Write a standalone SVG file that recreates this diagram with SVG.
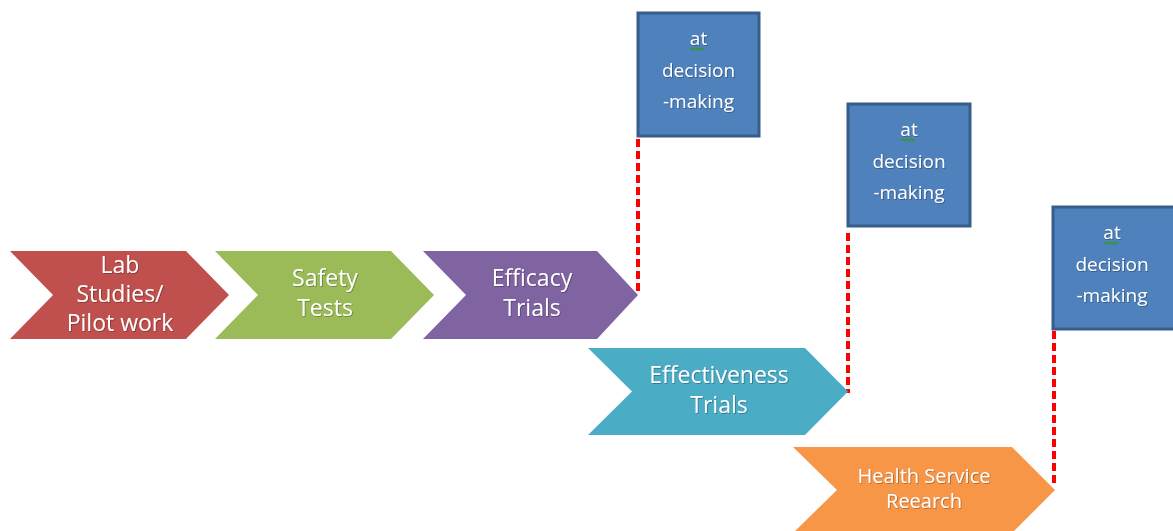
<svg xmlns="http://www.w3.org/2000/svg" width="1173" height="531" viewBox="0 0 1173 531">
<style>
.lbl{font-family:"Open Sans","Noto Sans","Liberation Sans",sans-serif;fill:#ffffff;text-anchor:middle;filter:url(#sh)}
.big{font-size:23px}
.mid{font-size:20px}
.box{fill:#4f81bd;stroke:#385d8a;stroke-width:3}
.bt{font-size:19px}
.dash{stroke:#ff0000;stroke-width:4;stroke-dasharray:8 4;fill:none}
.sq{fill:none;stroke:#2f9a2f;stroke-width:1.4}
</style>
<defs>
<filter id="sh" x="-10%" y="-20%" width="120%" height="140%">
<feDropShadow dx="0.8" dy="0.8" stdDeviation="0.6" flood-color="#000000" flood-opacity="0.35"/>
</filter>
</defs>
<rect width="1173" height="531" fill="#ffffff"/>
<g id="connectors">
<line class="dash" x1="638" y1="139" x2="638" y2="295"/>
<line class="dash" x1="848" y1="233" x2="848" y2="393"/>
<line class="dash" x1="1054" y1="331" x2="1054" y2="487"/>
</g>
<g id="lab">
<polygon points="10,251 186,251 229,295 186,339 10,339 53,295" fill="#c0504d"/>
<text class="lbl big" x="120" y="273">Lab</text>
<text class="lbl big" x="120" y="302">Studies/</text>
<text class="lbl big" x="120" y="331">Pilot work</text>
</g>
<g id="safety">
<polygon points="215,251 391,251 434,295 391,339 215,339 258,295" fill="#9bbb59"/>
<text class="lbl big" x="325" y="286">Safety</text>
<text class="lbl big" x="325" y="316">Tests</text>
</g>
<g id="efficacy">
<polygon points="423,251 597,251 638,295 597,339 423,339 466,295" fill="#8064a2"/>
<text class="lbl big" x="532" y="286">Efficacy</text>
<text class="lbl big" x="532" y="316">Trials</text>
</g>
<g id="effectiveness">
<polygon points="588,348 805,348 848,391.5 805,435 588,435 632,391.5" fill="#4bacc6"/>
<text class="lbl big" x="719" y="383">Effectiveness</text>
<text class="lbl big" x="719" y="413">Trials</text>
</g>
<g id="hsr">
<polygon points="793,447 1012,447 1055,490 1012,533 793,533 837,490" fill="#f79646"/>
<text class="lbl mid" x="924" y="483">Health Service</text>
<text class="lbl mid" x="924" y="508">Reearch</text>
</g>
<g id="decision1">
<rect class="box" x="638" y="13" width="121" height="123"/>
<text class="lbl bt" x="698.5" y="45">at</text>
<path class="sq" d="M690,50 l2,-2 l2,2 l2,-2 l2,2 l2,-2 l2,2 l2,-2"/>
<text class="lbl bt" x="698.5" y="77">decision</text>
<text class="lbl bt" x="698.5" y="108">-making</text>
</g>
<g id="decision2">
<rect class="box" x="848" y="104" width="122" height="122"/>
<text class="lbl bt" x="909" y="136">at</text>
<path class="sq" d="M901,141 l2,-2 l2,2 l2,-2 l2,2 l2,-2 l2,2 l2,-2"/>
<text class="lbl bt" x="909" y="168">decision</text>
<text class="lbl bt" x="909" y="199">-making</text>
</g>
<g id="decision3">
<rect class="box" x="1053" y="207" width="122" height="122"/>
<text class="lbl bt" x="1112" y="239">at</text>
<path class="sq" d="M1104,244 l2,-2 l2,2 l2,-2 l2,2 l2,-2 l2,2 l2,-2"/>
<text class="lbl bt" x="1112" y="271">decision</text>
<text class="lbl bt" x="1112" y="302">-making</text>
</g>
</svg>
